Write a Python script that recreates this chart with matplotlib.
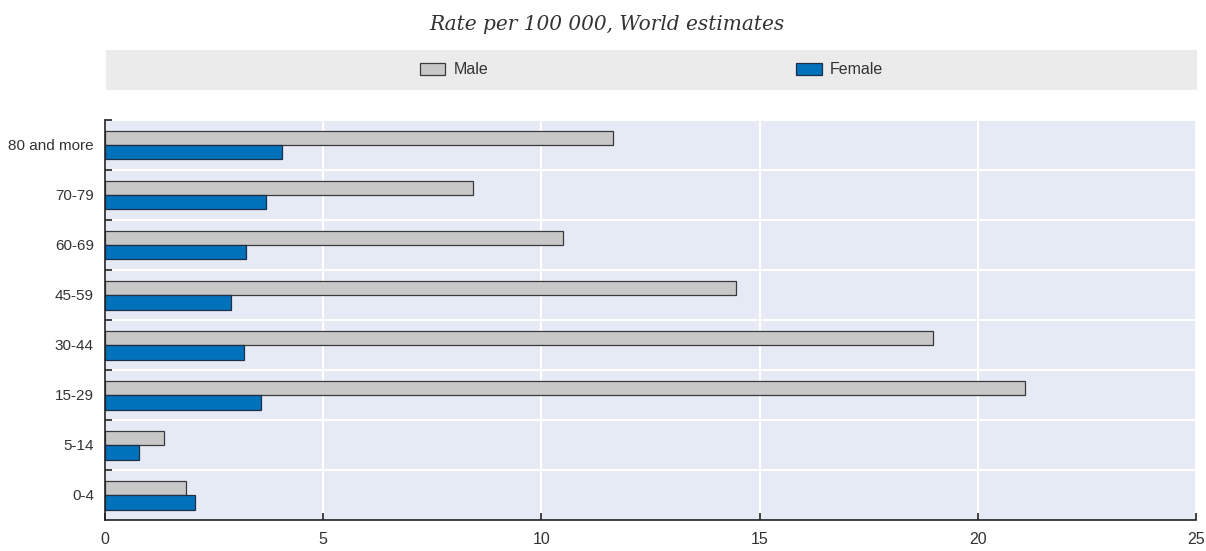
import numpy as np
import matplotlib
matplotlib.use("Agg")
import matplotlib.pyplot as plt

# data, bottom to top
ages = ['0-4', '5-14', '15-29', '30-44', '45-59', '60-69', '70-79', '80 and more']
male = [1.85, 1.36, 21.09, 18.97, 14.46, 10.49, 8.43, 11.65]
female = [2.06, 0.79, 3.58, 3.19, 2.88, 3.23, 3.70, 4.06]
xticks = [0, 5, 10, 15, 20, 25]

plt.rcParams['font.family'] = ['Liberation Sans', 'DejaVu Sans']

W, H = 1206, 551
fig = plt.figure(figsize=(W / 100, H / 100), dpi=100)

# main axes
ax = fig.add_axes([105 / W, 1 - 520 / H, (1196 - 105) / W, 400 / H])
ax.set_facecolor('#e6eaf5')

y = np.arange(len(ages))
bh = 0.29
b_m = ax.barh(y + bh / 2, male, height=bh, color='#c8c8c8',
              edgecolor='#3a3a3a', linewidth=0.9, zorder=3, label='Male')
b_f = ax.barh(y - bh / 2, female, height=bh, color='#0072bb',
              edgecolor='#1f2f45', linewidth=0.9, zorder=3, label='Female')

ax.set_xlim(0, 25)
ax.set_ylim(-0.5, len(ages) - 0.5)
ax.set_xticks(xticks)
ax.set_xticklabels([str(v) for v in xticks])
ax.set_yticks(y)
ax.set_yticklabels(ages)
ax.set_yticks(np.arange(len(ages)) + 0.5, minor=True)

ax.tick_params(axis='y', which='major', length=0, pad=8, labelsize=11, labelcolor='#333333')
ax.tick_params(axis='y', which='minor', direction='in', length=5, width=1.2, color='#222222')
ax.tick_params(axis='x', direction='in', length=5, width=1.2, color='#222222',
               pad=9, labelsize=11.5, labelcolor='#333333')

ax.grid(True, axis='x', which='major', color='white', linewidth=1.5, zorder=1)
ax.grid(True, axis='y', which='minor', color='white', linewidth=1.5, zorder=1)
ax.set_axisbelow(True)

for s in ['top', 'right']:
    ax.spines[s].set_visible(False)
for s in ['left', 'bottom']:
    ax.spines[s].set_color('#222222')
    ax.spines[s].set_linewidth(1.2)
    ax.spines[s].set_zorder(4)

# legend band
lax = fig.add_axes([106 / W, 1 - 90 / H, (1197 - 106) / W, 40 / H])
lax.set_facecolor('#ebebeb')
lax.set_xticks([])
lax.set_yticks([])
for s in lax.spines.values():
    s.set_visible(False)
lax.legend([b_m, b_f], ['Male', 'Female'], loc='center', ncol=2, frameon=False,
           fontsize=11.5, handlelength=1.6, handleheight=0.8, handletextpad=0.5,
           columnspacing=19.3, labelcolor='#333333')

fig.text(607 / W, 1 - 25 / H, 'Rate per 100 000, World estimates', ha='center', va='center',
         fontsize=14.5, style='italic', family='DejaVu Serif', color='#333333')

fig.savefig('out.png', dpi=100)
